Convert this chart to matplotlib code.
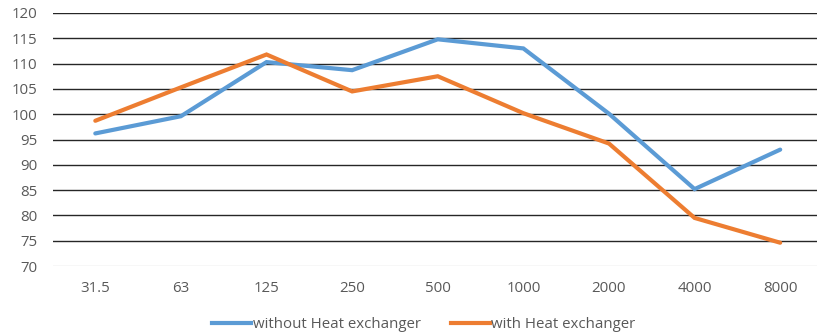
import matplotlib
matplotlib.use("Agg")
import matplotlib.pyplot as plt
from matplotlib.lines import Line2D

# Octave-band centre frequencies (Hz) and sound levels (dB)
bands = ["31.5", "63", "125", "250", "500", "1000", "2000", "4000", "8000"]
without_hx = [96.2, 99.6, 110.3, 108.7, 114.8, 113.0, 100.1, 85.2, 93.0]
with_hx = [98.7, 105.3, 111.8, 104.5, 107.5, 100.2, 94.2, 79.5, 74.6]
y_ticks = [70, 75, 80, 85, 90, 95, 100, 105, 110, 115, 120]

blue = "#5B9BD5"
orange = "#ED7D31"
label_color = "#595959"

plt.rcParams["font.family"] = ["Open Sans", "DejaVu Sans"]

fig = plt.figure(figsize=(8.17, 3.35), dpi=100)
ax = fig.add_axes([52.5 / 817, 1 - 266 / 335, (823 - 52.5) / 817, (266 - 13) / 335])

x = list(range(len(bands)))
ax.plot(x, without_hx, color=blue, lw=3.0, solid_capstyle="round",
        solid_joinstyle="miter", label="without Heat exchanger", zorder=3)
ax.plot(x, with_hx, color=orange, lw=3.0, solid_capstyle="round",
        solid_joinstyle="miter", label="with Heat exchanger", zorder=3)

ax.set_xlim(-0.5, len(bands) - 0.5)
ax.set_ylim(70, 120)
ax.set_yticks(y_ticks)
ax.set_xticks(x)
ax.set_xticklabels(bands)

for v in y_ticks[1:]:
    ax.axhline(v, color="#262626", lw=1.0, zorder=1)
ax.axhline(70, color="#D9D9D9", lw=1.0, zorder=1)

for s in ax.spines.values():
    s.set_visible(False)
ax.tick_params(axis="both", length=0, labelsize=10.8, colors=label_color)
ax.tick_params(axis="y", pad=11)
ax.tick_params(axis="x", pad=11)

handles = [Line2D([], [], color=blue, lw=3.0),
           Line2D([], [], color=orange, lw=3.0)]
fig.legend(handles, ["without Heat exchanger", "with Heat exchanger"],
           loc="center", bbox_to_anchor=(424 / 817, 1 - 325 / 335), ncol=2,
           frameon=False, fontsize=10.8, handlelength=2.6, handletextpad=0.1,
           columnspacing=2.0, labelcolor=label_color)

fig.savefig("out.png", dpi=100)
